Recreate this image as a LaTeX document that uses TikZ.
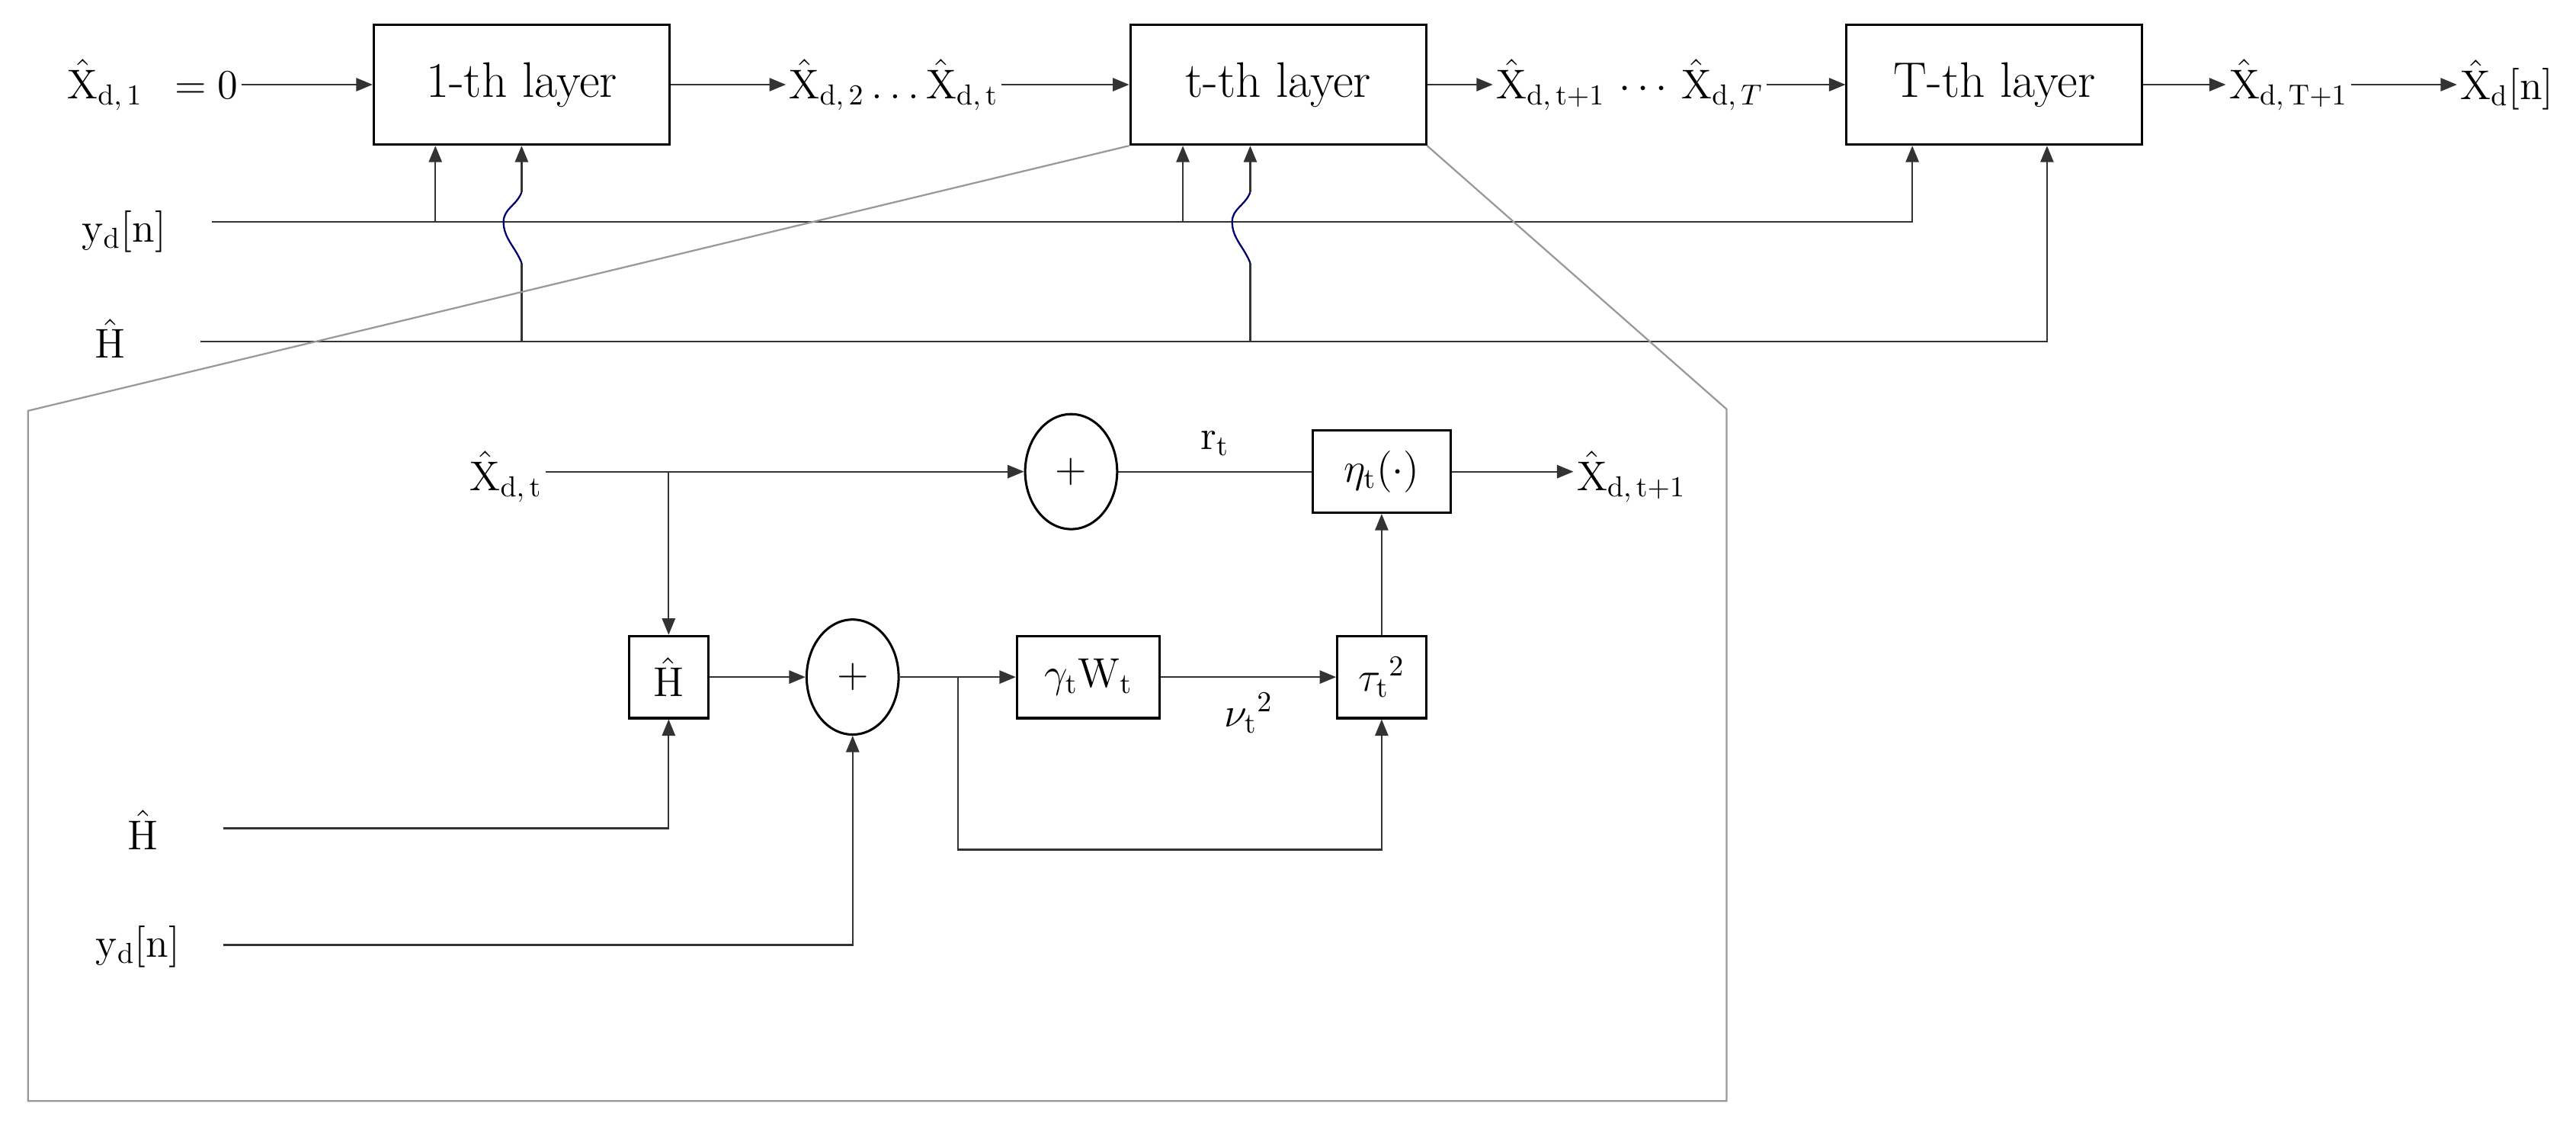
\documentclass[tikz,border=0pt]{standalone}
\usepackage{amsmath}
\usetikzlibrary{arrows.meta,positioning,calc,shapes.geometric}
\newcommand{\xhat}{\hat{\mathrm{X}}}

\begin{document}
\begin{tikzpicture}[x=0.02cm, y=-0.02cm, font=\Large,
  layer/.style={draw, line width=0.8pt, minimum width=3.6cm, minimum height=1.46cm, font=\LARGE},
  blk/.style={draw, line width=0.8pt, minimum height=1cm, inner sep=2pt},
  sum/.style={draw, ellipse, line width=0.8pt, minimum width=1.12cm, minimum height=1.4cm, inner sep=0pt},
  lbl/.style={inner sep=1pt},
  ln/.style={line width=0.6pt, draw=black!80},
  ar/.style={ln, -{Triangle[length=2mm,width=1.6mm]}},
  bump/.style={line width=0.6pt, draw=blue!45!black},
  frame/.style={line width=0.6pt, draw=black!40}]
\useasboundingbox (0,0) rectangle (1568,685);
% unrolled layers
\node[layer] (L1) at (317.5,51.5) {1-th layer};
\node[layer] (Lt) at (778,51.5) {t-th layer};
\node[layer] (LT) at (1214,51.5) {T-th layer};
\node[lbl] (x1) at (93,51.5) {$\xhat_{\mathrm{d},\,1}\ \,=0$};
\node[lbl] (x2t) at (544,51.5) {$\xhat_{\mathrm{d},\,2}\ldots\xhat_{\mathrm{d},\,\mathrm{t}}$};
\node[lbl] (xtT) at (992,51.5) {$\xhat_{\mathrm{d},\,\mathrm{t}+1}\,\cdots\,\xhat_{\mathrm{d},\,T}$};
\node[lbl] (xT1) at (1393,51.5) {$\xhat_{\mathrm{d},\,\mathrm{T}+1}$};
\node[lbl] (xn) at (1526,51.5) {$\xhat_{\mathrm{d}}[\mathrm{n}]$};
\draw[ar] (x1) -- (L1);
\draw[ar] (L1) -- (x2t);
\draw[ar] (x2t) -- (Lt);
\draw[ar] (Lt) -- (xtT);
\draw[ar] (xtT) -- (LT);
\draw[ar] (LT) -- (xT1);
\draw[ar] (xT1) -- (xn);
% inputs of the layers
\node[lbl] (ylab) at (75.5,141) {$\mathrm{y}_{\mathrm{d}}[\mathrm{n}]$};
\node[lbl] (hlab) at (67,206) {$\hat{\mathrm{H}}$};
\coordinate (yin) at (129,135);
\coordinate (hin) at (122,208);
\coordinate (a1) at ($(L1.south)+(-52.5,0)$);
\coordinate (b1) at (L1.south);
\coordinate (ct) at ($(Lt.south)+(-58,0)$);
\coordinate (bt) at ($(Lt.south)+(-17,0)$);
\coordinate (aT) at ($(LT.south)+(-50,0)$);
\coordinate (bT) at ($(LT.south)+(32,0)$);
\draw[ar] (yin) -| (aT);
\draw[ar] (hin) -| (bT);
\draw[ar] (a1 |- yin) -- (a1);
\draw[ar] (ct |- yin) -- (ct);
\foreach \b in {b1,bt}{
  \draw[ln] (\b |- hin) -- ($(\b |- yin)+(0,25)$);
  \draw[bump] ($(\b |- yin)+(0,25)$) .. controls +(-4,-10) and +(0,10) .. ($(\b |- yin)+(-11,0)$)
    .. controls +(0,-8) and +(-3,8) .. ($(\b |- yin)+(0,-18)$);
  \draw[ar] ($(\b |- yin)+(0,-18)$) -- (\b);
}
% zoom into the t-th layer
\draw[frame] (Lt.south west) -- (17,250) -- (17,670) -- (1051,670) -- (1051,249) -- (Lt.south east);
\node[lbl] (xt) at (308,290) {$\xhat_{\mathrm{d},\,\mathrm{t}}$};
\node[sum] (s1) at (652,287) {$+$};
\node[blk, minimum width=1.68cm] (eta) at (841,287) {$\eta_{\mathrm{t}}(\cdot)$};
\node[lbl] (xo) at (993,290) {$\xhat_{\mathrm{d},\,\mathrm{t}+1}$};
\node[blk, minimum width=0.96cm] (hb) at (407,412) {$\hat{\mathrm{H}}$};
\node[sum] (s2) at (519,412) {$+$};
\node[blk, minimum width=1.74cm] (gw) at (662.5,412) {$\gamma_{\mathrm{t}}\mathrm{W}_{\mathrm{t}}$};
\node[blk, minimum width=1.08cm] (tau) at (841,412) {$\tau_{\mathrm{t}}{}^{2}$};
\node[lbl] (hlo) at (87,505) {$\hat{\mathrm{H}}$};
\node[lbl] (ylo) at (84,576) {$\mathrm{y}_{\mathrm{d}}[\mathrm{n}]$};
\coordinate (hl) at (136,504);
\coordinate (yl) at (136,575);
\coordinate (br) at (583,412);
\coordinate (fb) at (583,517);
\draw[ar] (xt.east |- s1) -- (s1);
\draw[ar] (hb |- s1) -- (hb);
\draw[ln] (s1) -- (eta) node[midway, above=2pt] {$\mathrm{r}_{\mathrm{t}}$};
\draw[ar] (eta) -- (eta -| xo.west);
\draw[ar] (hb) -- (s2);
\draw[ar] (s2) -- (gw);
\draw[ar] (gw) -- (tau) node[midway, below=2pt] {$\nu_{\mathrm{t}}{}^{2}$};
\draw[ar] (tau) -- (eta);
\draw[ar] (br) -- (fb) -| (tau);
\draw[ar] (hl) -| (hb);
\draw[ar] (yl) -| (s2);
\end{tikzpicture}
\end{document}
